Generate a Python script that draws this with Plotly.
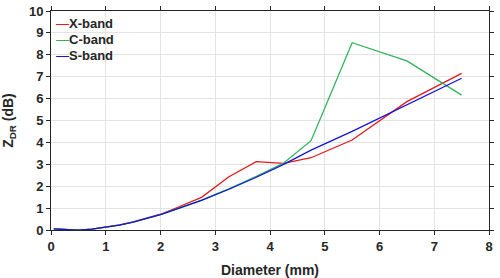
import plotly.graph_objects as go

diameter = [0.05, 0.25, 0.5, 0.75, 1.0, 1.25, 1.5, 1.75, 2.0, 2.25, 2.75, 3.25, 3.75, 4.25, 4.75, 5.5, 6.5, 7.5]
x_band = [0.05, 0.01, -0.01, 0.04, 0.13, 0.23, 0.37, 0.53, 0.72, 0.97, 1.49, 2.43, 3.12, 3.04, 3.30, 4.11, 5.86, 7.15]
c_band = [0.05, 0.01, -0.01, 0.04, 0.12, 0.22, 0.36, 0.52, 0.70, 0.92, 1.36, 1.88, 2.45, 3.06, 4.08, 8.55, 7.72, 6.16]
s_band = [0.05, 0.01, -0.01, 0.04, 0.12, 0.22, 0.36, 0.52, 0.70, 0.92, 1.35, 1.86, 2.41, 3.00, 3.65, 4.50, 5.70, 6.93]
x_ticks = [0, 1, 2, 3, 4, 5, 6, 7, 8]
y_ticks = [0, 1, 2, 3, 4, 5, 6, 7, 8, 9, 10]
series = [("X-band", x_band, "#e41a1c"), ("C-band", c_band, "#2fb45a"), ("S-band", s_band, "#1414d8")]

FAM = "Liberation Sans, Arial, sans-serif"
DARK = "#262626"

fig = go.Figure()
for name, ys, col in series:
    fig.add_trace(go.Scatter(x=diameter, y=ys, mode="lines", name=name,
                             line=dict(color=col, width=1.3), showlegend=False))

# legend drawn as text entries (short coloured dash + bold label)
for i, (name, ys, col) in enumerate(series):
    fig.add_annotation(xref="paper", yref="paper", x=0.006, y=1 - (13 + 15.5 * i) / 219.0,
                       xanchor="left", yanchor="middle", showarrow=False,
                       text="<span style='color:%s'>\u2014</span><b>%s</b>" % (col, name),
                       font=dict(family=FAM, size=13, color=DARK))

axis_common = dict(showline=True, linecolor=DARK, linewidth=1, mirror="ticks",
                   ticks="outside", ticklen=4, tickcolor=DARK, showgrid=True,
                   gridcolor="#e3e3e3", gridwidth=1, zeroline=False, automargin=False,
                   tickfont=dict(family=FAM, size=13, color=DARK))

fig.update_layout(
    width=500, height=278,
    margin=dict(l=51, r=11, t=11, b=48),
    paper_bgcolor="white", plot_bgcolor="white",
    font=dict(family=FAM, size=13, color=DARK),
    showlegend=False,
    xaxis=dict(range=[0, 8], tickvals=x_ticks, ticktext=["<b>%d</b>" % v for v in x_ticks],
               title=dict(text="<b>Diameter (mm)</b>", font=dict(size=14)), **axis_common),
    yaxis=dict(range=[0, 10], tickvals=y_ticks, ticktext=["<b>%d</b>" % v for v in y_ticks],
               title=dict(text="<b>Z<sub>DR</sub> (dB)</b>", font=dict(size=14)), **axis_common),
)

fig.write_html("out.html", config={"displayModeBar": False},
               post_script="document.body.style.margin='0';")
